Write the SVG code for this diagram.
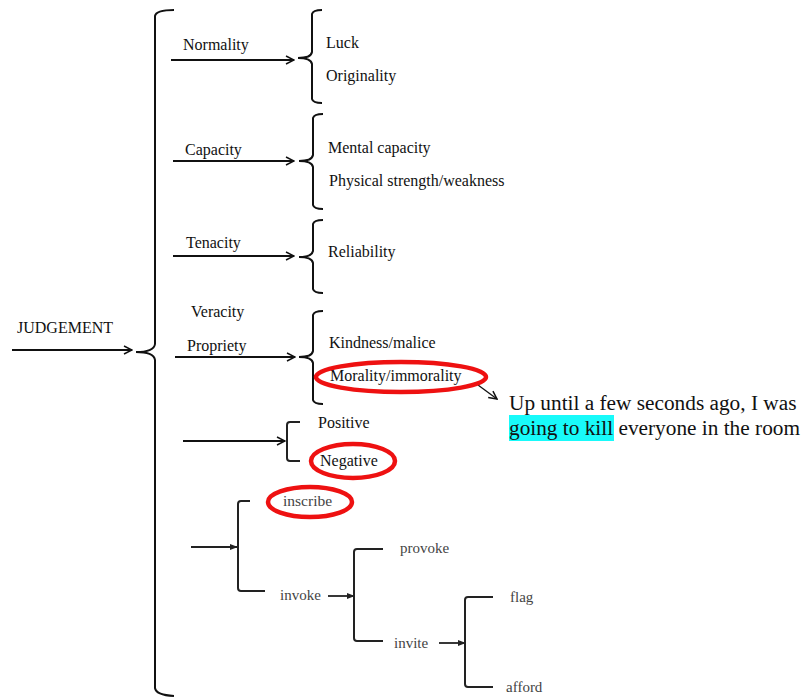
<svg xmlns="http://www.w3.org/2000/svg" width="806" height="698" viewBox="0 0 806 698">
  <defs>
    <marker id="arr" viewBox="0 0 10 10" refX="9" refY="5" markerWidth="10" markerHeight="10" markerUnits="userSpaceOnUse" orient="auto">
      <path d="M1,1 L9,5 L1,9" fill="none" stroke="#111" stroke-width="1.5"/>
    </marker>
    <marker id="arrs" viewBox="0 0 10 10" refX="9" refY="5" markerWidth="8" markerHeight="8" markerUnits="userSpaceOnUse" orient="auto">
      <path d="M0,1 L10,5 L0,9 Z" fill="#222"/>
    </marker>
  </defs>
  <style>
    text { font-family: "Liberation Serif", "Times New Roman", serif; }
    .t { font-size: 16px; fill: #111; }
    .g { font-size: 15px; fill: #444; }
    .q { font-size: 21.3px; fill: #111; }
    .ln { fill: none; stroke: #111; stroke-width: 1.8; }
    .br { fill: none; stroke: #111; stroke-width: 2; }
    .bk { fill: none; stroke: #222; stroke-width: 2; }
    .ring { fill: none; stroke: #ee1111; stroke-width: 4.5; }
  </style>

  <rect width="806" height="698" fill="#fff"/>

  <!-- connectors -->
  <g id="connectors">
    <line class="ln" x1="12" y1="350" x2="132" y2="350" marker-end="url(#arr)"/>
    <line class="ln" x1="171" y1="60" x2="294" y2="60" marker-end="url(#arr)"/>
    <line class="ln" x1="173" y1="161" x2="294" y2="161" marker-end="url(#arr)"/>
    <line class="ln" x1="173" y1="256" x2="294" y2="256" marker-end="url(#arr)"/>
    <line class="ln" x1="175" y1="357" x2="295" y2="357" marker-end="url(#arr)"/>
    <line class="ln" x1="183" y1="441" x2="285" y2="441" marker-end="url(#arr)"/>
    <line x1="478" y1="385" x2="497" y2="399" stroke="#111" stroke-width="1.3" marker-end="url(#arr)"/>
    <line x1="191" y1="547" x2="237" y2="547" stroke="#222" stroke-width="1.8" marker-end="url(#arrs)"/>
    <line x1="328" y1="596" x2="354" y2="596" stroke="#222" stroke-width="1.8" marker-end="url(#arrs)"/>
    <line x1="439" y1="643" x2="465" y2="643" stroke="#222" stroke-width="1.8" marker-end="url(#arrs)"/>
  </g>

  <!-- root -->
  <g id="judgement">
    <text class="t" x="17" y="333">JUDGEMENT</text>
    <path class="br" d="M174,10 Q156,10 155,16 L155,344 Q154,352 136,352 Q154,352 155,360 L155,688 Q156,695 174,696"/>
  </g>

  <g id="normality">
    <text class="t" x="183" y="50">Normality</text>
    <path class="br" d="M322,10 Q313,10 312,14 L312,52 Q311,58 298,58 Q311,58 312,64 L312,99 Q313,103 322,103"/>
    <text class="t" x="326" y="48">Luck</text>
    <text class="t" x="326" y="81">Originality</text>
  </g>

  <g id="capacity">
    <text class="t" x="185" y="155">Capacity</text>
    <path class="br" d="M323,114 Q314,114 313,118 L313,155 Q312,161 299,161 Q312,161 313,167 L313,205 Q314,209 323,209"/>
    <text class="t" x="328" y="153">Mental capacity</text>
    <text class="t" x="329" y="186">Physical strength/weakness</text>
  </g>

  <g id="tenacity">
    <text class="t" x="186" y="248">Tenacity</text>
    <path class="br" d="M323,220 Q314,220 313,224 L313,251 Q312,257 299,257 Q312,257 313,263 L313,289 Q314,293 323,293"/>
    <text class="t" x="328" y="257">Reliability</text>
  </g>

  <g id="veracity">
    <text class="t" x="191" y="317">Veracity</text>
  </g>

  <g id="propriety">
    <text class="t" x="187" y="351">Propriety</text>
    <path class="br" d="M323,311 Q314,311 313,315 L313,351 Q312,357 299,357 Q312,357 313,363 L313,400 Q314,404 323,404"/>
    <text class="t" x="329" y="348">Kindness/malice</text>
    <text class="t" x="330" y="381">Morality/immorality</text>
    <ellipse class="ring" cx="401" cy="377" rx="85" ry="15"/>
  </g>

  <g id="example">
    <rect x="509" y="415" width="105" height="26" fill="#18fafa"/>
    <text class="q" x="509" y="410">Up until a few seconds ago, I was</text>
    <text class="q" x="509" y="435">going to kill everyone in the room</text>
  </g>

  <g id="polarity">
    <path class="bk" d="M300,422 L290,422 Q287,422 287,425 L287,458 Q287,461 290,461 L300,461"/>
    <text class="t" x="318" y="428">Positive</text>
    <text class="t" x="320" y="466">Negative</text>
    <ellipse class="ring" cx="353" cy="461" rx="42" ry="17"/>
  </g>

  <g id="inscribe">
    <path class="bk" d="M250,501 L241,501 Q238,501 238,504 L238,588 Q238,591 241,591 L265,591"/>
    <text class="g" x="283" y="506" style="font-size:15.5px">inscribe</text>
    <ellipse class="ring" cx="310" cy="502" rx="42" ry="15"/>
  </g>

  <g id="invoke">
    <text class="g" x="280" y="600">invoke</text>
    <path class="bk" d="M383,549 L357,549 Q354,549 354,552 L354,638 Q354,641 357,641 L383,641"/>
    <text class="g" x="400" y="553">provoke</text>
  </g>

  <g id="invite">
    <text class="g" x="394" y="648">invite</text>
    <path class="bk" d="M493,597 L468,597 Q465,597 465,600 L465,684 Q465,687 468,687 L493,687"/>
    <text class="g" x="510" y="602">flag</text>
    <text class="g" x="506" y="692">afford</text>
  </g>
</svg>
